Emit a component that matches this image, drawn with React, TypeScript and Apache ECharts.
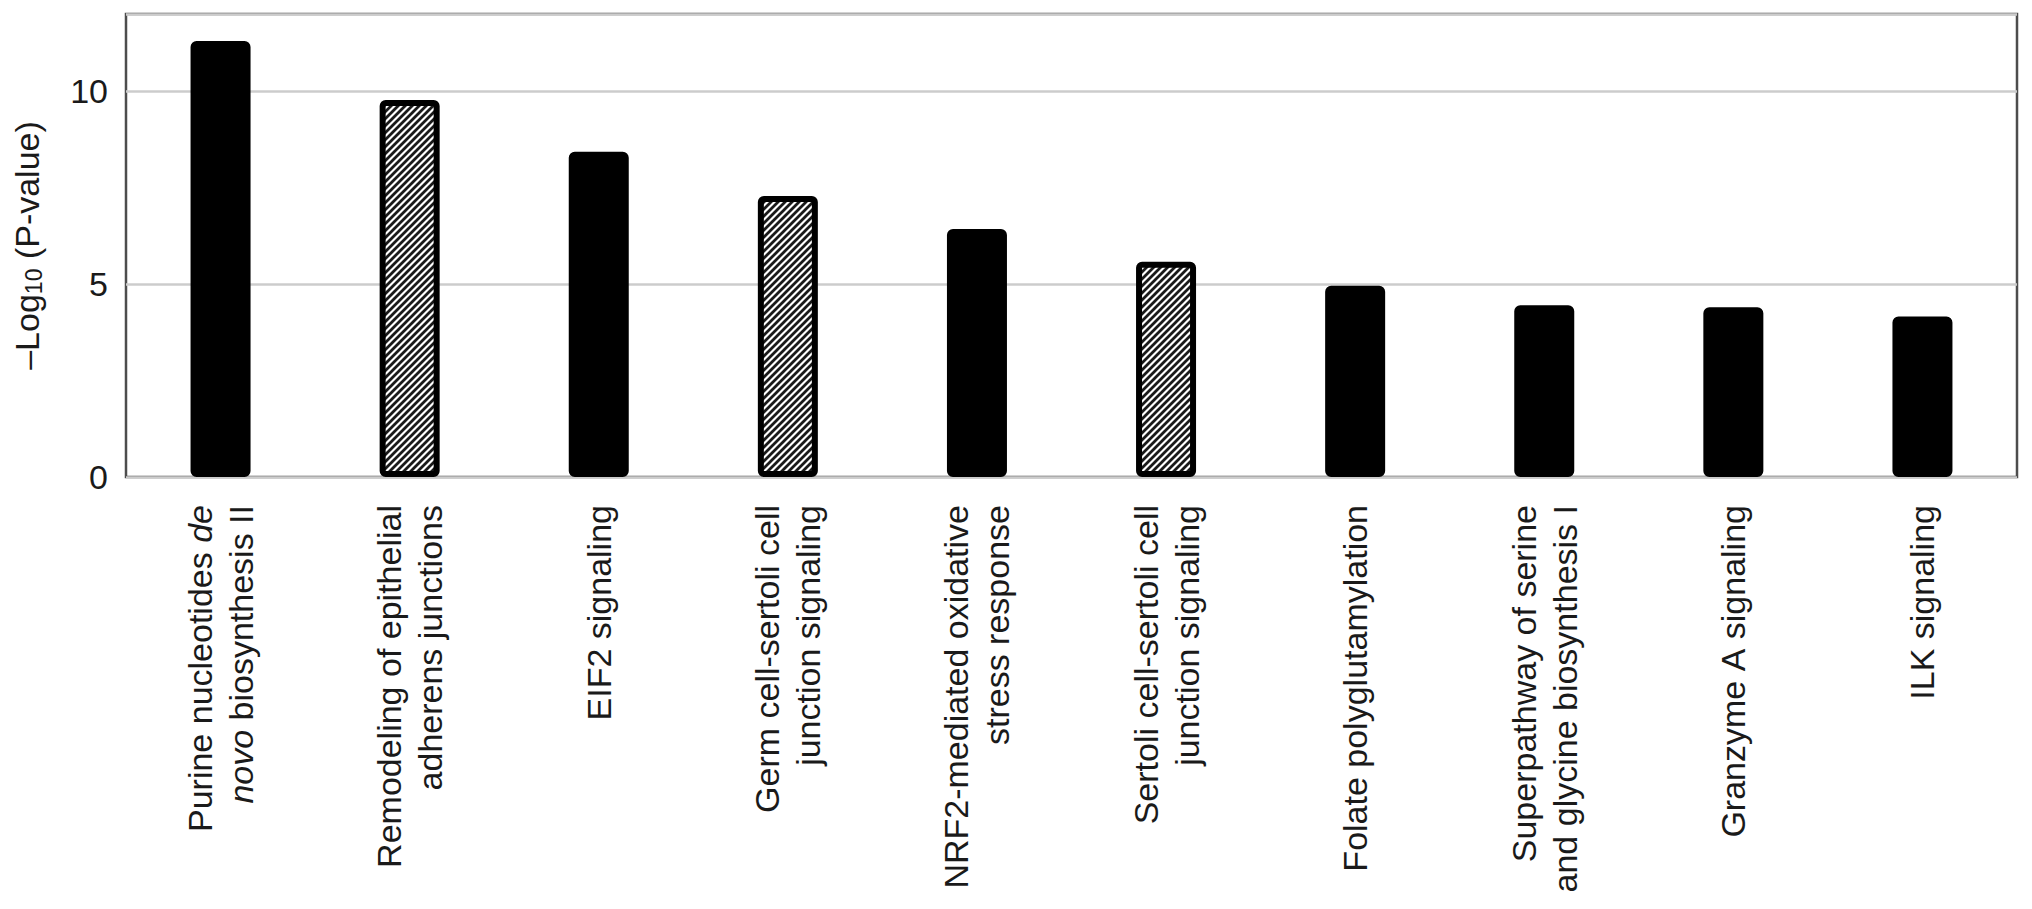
import React, { useEffect, useRef } from 'react';
import * as echarts from 'echarts';

const categories: string[] = [
  'Purine nucleotides de\nnovo biosynthesis II',
  'Remodeling of epithelial\nadherens junctions',
  'EIF2 signaling',
  'Germ cell-sertoli cell\njunction signaling',
  'NRF2-mediated oxidative\nstress response',
  'Sertoli cell-sertoli cell\njunction signaling',
  'Folate polyglutamylation',
  'Superpathway of serine\nand glycine biosynthesis I',
  'Granzyme A signaling',
  'ILK signaling',
];
const values: number[] = [11.3, 9.77, 8.43, 7.28, 6.43, 5.58, 4.96, 4.45, 4.4, 4.16];
const hatched: boolean[] = [false, true, false, true, false, true, false, false, false, false];
const italicWords: string[] = ['de', 'novo'];
const yTicks: number[] = [0, 5, 10];
const yMax = 12;

const FONT = '"Liberation Sans", Arial, Helvetica, sans-serif';
const TEXT = '#1a1a1a';
const FS = 34;

function makeHatch(): HTMLCanvasElement {
  const s = 7;
  const c = document.createElement('canvas');
  c.width = s;
  c.height = s;
  const ctx = c.getContext('2d')!;
  ctx.fillStyle = '#ffffff';
  ctx.fillRect(0, 0, s, s);
  ctx.strokeStyle = '#1a1a1a';
  ctx.lineWidth = 2.8;
  ctx.beginPath();
  ctx.moveTo(-1, s + 1);
  ctx.lineTo(s + 1, -1);
  ctx.moveTo(-2, 2);
  ctx.lineTo(2, -2);
  ctx.moveTo(s - 2, s + 2);
  ctx.lineTo(s + 2, s - 2);
  ctx.stroke();
  return c;
}

export default function App() {
  const ref = useRef<HTMLDivElement>(null);

  useEffect(() => {
    if (!ref.current) return;
    const chart = echarts.init(ref.current, undefined, { renderer: 'svg' });
    const hatch = makeHatch();
    const pattern: any = { image: hatch, repeat: 'repeat', imageWidth: 7, imageHeight: 7 };

    const data = values.map((v, i) => ({
      value: v,
      itemStyle: hatched[i]
        ? { color: pattern, borderColor: '#000', borderWidth: 6, borderRadius: 3 }
        : { color: '#000', borderColor: '#000', borderWidth: 6, borderRadius: 3 },
    }));

    chart.setOption({
      animation: false,
      backgroundColor: '#ffffff',
      grid: {
        left: 126,
        top: 14,
        width: 1891,
        height: 463,
        show: true,
        borderColor: '#4d4d4d',
        borderWidth: 2.5,
        backgroundColor: 'transparent',
      },
      xAxis: {
        type: 'category',
        data: categories,
        axisLine: { show: false },
        axisTick: { show: false },
        axisLabel: {
          rotate: 90,
          interval: 0,
          margin: 28,
          color: TEXT,
          fontFamily: FONT,
          fontSize: FS,
          lineHeight: 41,
          formatter: (val: string) =>
            val
              .split('\n')
              .map((line) =>
                line
                  .split(' ')
                  .map((w) => (italicWords.includes(w) ? `{i|${w}}` : `{n|${w}}`))
                  .join('{n| }')
              )
              .join('\n'),
          rich: {
            n: { fontSize: FS, fontFamily: FONT, color: TEXT, lineHeight: 41 },
            i: { fontSize: FS, fontFamily: FONT, color: TEXT, fontStyle: 'italic', lineHeight: 41 },
          },
        },
      },
      yAxis: {
        type: 'value',
        min: 0,
        max: yMax,
        interval: 5,
        axisLine: { show: false },
        axisTick: { show: false },
        splitLine: { show: true, lineStyle: { color: '#cccccc', width: 2.5 } },
        axisLabel: {
          margin: 18,
          color: TEXT,
          fontFamily: FONT,
          fontSize: FS,
          showMaxLabel: false,
          formatter: (v: number) => (yTicks.includes(v) ? String(v) : ''),
        },
        name: '{a|\u2013Log}{s|10}{a| (P-value)}',
        nameLocation: 'middle',
        nameRotate: 90,
        nameGap: 79,
        nameTextStyle: {
          color: TEXT,
          fontFamily: FONT,
          fontSize: FS,
          rich: {
            a: { fontSize: FS, fontFamily: FONT, color: TEXT, lineHeight: 40 },
            s: { fontSize: 23, fontFamily: FONT, color: TEXT, lineHeight: 40, padding: [14, 0, 0, 0] },
          },
        },
      },
      series: [
        {
          type: 'bar',
          data,
          barWidth: 60,
          z: 3,
        },
      ],
    });

    return () => chart.dispose();
  }, []);

  return (
    <div
      ref={ref}
      style={{ position: 'fixed', left: 0, top: 0, width: 2032, height: 909, background: '#fff' }}
    />
  );
}
